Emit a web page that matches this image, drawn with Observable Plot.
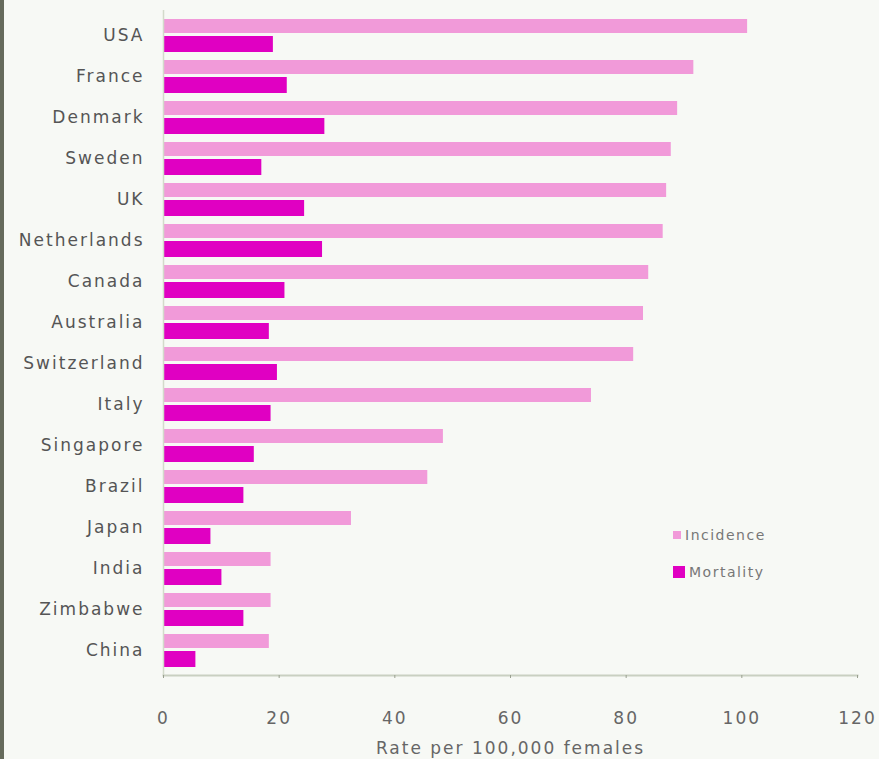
<!DOCTYPE html>
<html>
<head>
<meta charset="utf-8">
<script src="https://cdn.jsdelivr.net/npm/d3@7"></script>
<script src="https://cdn.jsdelivr.net/npm/@observablehq/plot@0.6"></script>
<style>
  html, body { margin: 0; padding: 0; background: #f7f9f5; }
  #wrap { position: relative; width: 879px; height: 759px; overflow: hidden; background: #f7f9f5; }
  #edge { position: absolute; left: 0; top: 0; width: 4px; height: 759px; background: #666b5c; }
  #legend { position: absolute; left: 673px; top: 525px; font-family: "DejaVu Sans", sans-serif; font-size: 14px; letter-spacing: 1.5px; color: #777; }
  #legend div { display: flex; align-items: center; height: 20px; margin-bottom: 17px; }
  #legend span.sw { display: inline-block; margin-right: 4px; }
</style>
</head>
<body>
<div id="wrap"><div id="edge"></div><div id="legend"></div></div>
<script>
const countries = ["USA","France","Denmark","Sweden","UK","Netherlands","Canada","Australia","Switzerland","Italy","Singapore","Brazil","Japan","India","Zimbabwe","China"];
const incidence = [101, 91.7, 88.9, 87.8, 87, 86.4, 83.9, 83, 81.3, 74, 48.4, 45.7, 32.5, 18.6, 18.6, 18.3];
const mortality = [19, 21.4, 27.9, 17, 24.4, 27.5, 21, 18.3, 19.7, 18.6, 15.7, 13.9, 8.2, 10.1, 13.9, 5.6];
const seriesNames = ["Incidence", "Mortality"];
const seriesColors = ["#f19ad9", "#e000c2"];
const xTicks = [0, 20, 40, 60, 80, 100, 120];

const data = countries.map((c, i) => ({country: c, incidence: incidence[i], mortality: mortality[i]}));

const chart = Plot.plot({
  width: 879,
  height: 759,
  marginLeft: 163,
  marginRight: 22,
  marginTop: 10,
  marginBottom: 84,
  style: {background: "transparent", fontFamily: "'DejaVu Sans', sans-serif", letterSpacing: "2px"},
  x: {domain: [0, 120], ticks: xTicks},
  y: {domain: countries, padding: 0},
  marks: [
    Plot.barX(data, {x: "incidence", y: "country", fill: seriesColors[0], insetTop: 4, insetBottom: 23}),
    Plot.barX(data, {x: "mortality", y: "country", fill: seriesColors[1], insetTop: 21, insetBottom: 4}),
    Plot.ruleX([0], {stroke: "#d3dacb", strokeWidth: 1.5}),
    Plot.frame({anchor: "bottom", stroke: "#c9d0c1", strokeWidth: 2}),
    Plot.axisX({ticks: xTicks, tickSize: 3, tickPadding: 33, tickFormat: d => String(d), fontSize: 17, color: "#666", stroke: "#9aa090", label: "Rate per 100,000 females", labelArrow: "none", labelAnchor: "center", labelOffset: 78}),
    Plot.axisY({tickSize: 0, tickPadding: 19, fontSize: 17, color: "#555", label: null})
  ]
});
document.getElementById("wrap").prepend(chart);
chart.style.position = "absolute";
chart.style.left = "0px";
chart.style.top = "0px";

const legend = document.getElementById("legend");
seriesNames.forEach((n, i) => {
  const row = document.createElement("div");
  const sw = document.createElement("span");
  sw.className = "sw";
  const s = i === 0 ? 8 : 12;
  sw.style.width = s + "px";
  sw.style.height = s + "px";
  sw.style.background = seriesColors[i];
  row.appendChild(sw);
  row.appendChild(document.createTextNode(n));
  legend.appendChild(row);
});
</script>
</body>
</html>
